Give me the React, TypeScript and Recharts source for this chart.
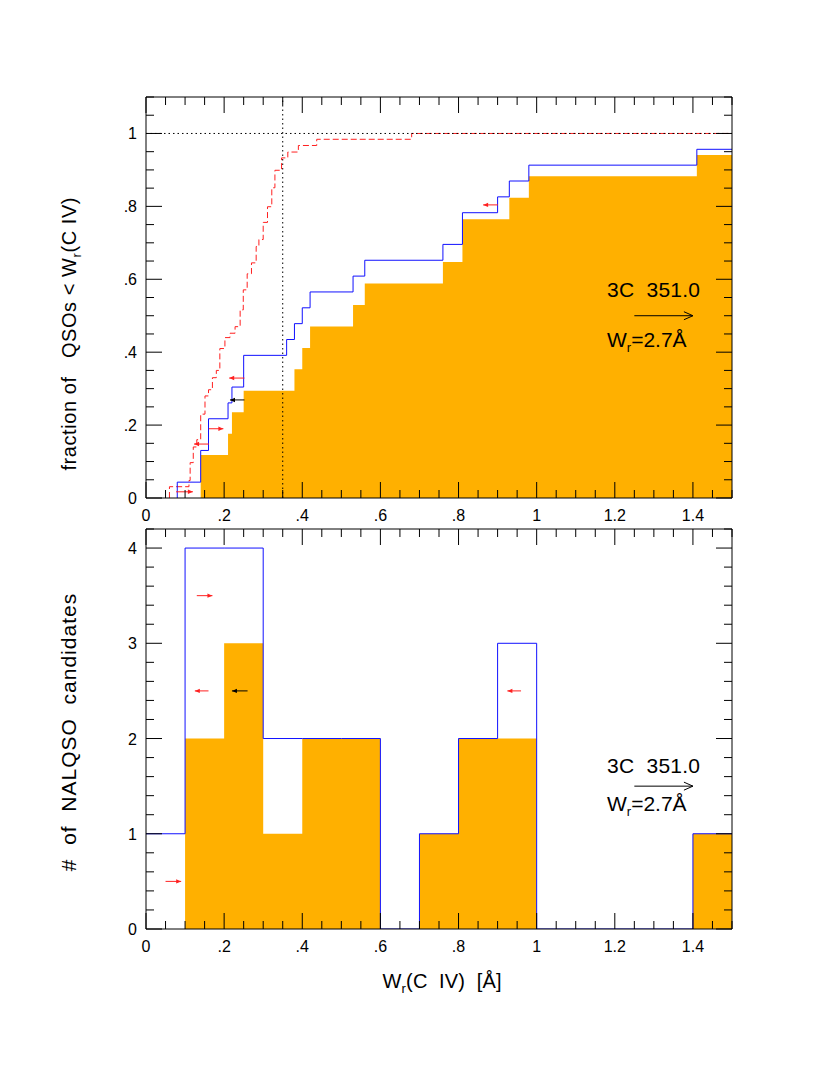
import React from "react";
import {
  Area,
  ComposedChart,
  Line,
  ReferenceDot,
  ReferenceLine,
  XAxis,
  YAxis,
} from "recharts";

const FONT = "'Liberation Sans', Arial, Helvetica, sans-serif";
const ORANGE = "#ffb000";
const BLUE = "#1010ff";
const RED = "#ff2020";

// ---- top panel: cumulative fractions ----
// detections (filled)
const detTotal = 17;
const detSteps = [0.14, 0.21, 0.22, 0.25, 0.38, 0.4, 0.42, 0.53, 0.56, 0.76, 0.81, 0.93, 0.98, 1.41, 1.5];
const detCounts = [2, 3, 4, 5, 6, 7, 8, 9, 10, 11, 13, 14, 15, 16, 16];

// detections + upper limits (blue)
const allTotal = 23;
const allSteps = [0.08, 0.08, 0.14, 0.16, 0.21, 0.22, 0.25, 0.36, 0.38, 0.4, 0.42, 0.53, 0.56, 0.76, 0.81, 0.9, 0.93, 0.98, 1.41, 1.5];
const allCounts = [0, 1, 3, 5, 6, 7, 9, 10, 11, 12, 13, 14, 15, 16, 18, 19, 20, 21, 22, 22];

// comparison sample (red dashed)
const compSteps = [0.06, 0.06, 0.11, 0.113, 0.121, 0.13, 0.14, 0.151, 0.16, 0.17, 0.18, 0.189, 0.202, 0.215, 0.228, 0.241, 0.249, 0.259, 0.27, 0.282, 0.289, 0.3, 0.311, 0.322, 0.33, 0.347, 0.363, 0.39, 0.437, 0.68, 1.5];
const compFrac = [0, 0.031, 0.048, 0.097, 0.14, 0.16, 0.23, 0.28, 0.297, 0.33, 0.35, 0.41, 0.44, 0.452, 0.47, 0.516, 0.571, 0.615, 0.645, 0.69, 0.709, 0.756, 0.799, 0.851, 0.899, 0.933, 0.949, 0.967, 0.984, 1, 1];

const cutX = 0.35;
const fullY = 1;

// limit arrows [from, to, y]
const topRedArrows = [
  [0.077, 0.12, 0.017],
  [0.161, 0.123, 0.148],
  [0.161, 0.198, 0.19],
  [0.252, 0.213, 0.329],
  [0.901, 0.863, 0.804],
];
const topBlackArrows = [[0.252, 0.215, 0.269]];

// ---- bottom panel: histogram ----
const binEdges = [0, 0.1, 0.2, 0.3, 0.4, 0.5, 0.6, 0.7, 0.8, 0.9, 1.0, 1.1, 1.2, 1.3, 1.4, 1.5];
const allHist = [1, 4, 4, 2, 2, 2, 0, 1, 2, 3, 0, 0, 0, 0, 1];
const detHist = [0, 2, 3, 1, 2, 2, 0, 1, 2, 2, 0, 0, 0, 0, 1];

const botRedArrows = [
  [0.13, 0.17, 3.5],
  [0.16, 0.125, 2.5],
  [0.05, 0.09, 0.5],
  [0.96, 0.925, 2.5],
];
const botBlackArrows = [[0.26, 0.22, 2.5]];

// 3C 351.0 note: arrow [from, to, y], name y, width y
const topNote = { x: 1.18, arrow: [1.25, 1.4, 0.5], nameY: 0.551, wY: 0.415 };
const botNote = { x: 1.18, arrow: [1.25, 1.4, 1.5], nameY: 1.64, wY: 1.238 };

// ---- ticks ----
const xTicks = Array.from({ length: 31 }, (_, i) => +(i * 0.05).toFixed(2));
const xLabels: Record<string, string> = { "0": "0", "0.2": ".2", "0.4": ".4", "0.6": ".6", "0.8": ".8", "1": "1", "1.2": "1.2", "1.4": "1.4" };
const yTopTicks = Array.from({ length: 23 }, (_, i) => +(i * 0.05).toFixed(2));
const yTopLabels: Record<string, string> = { "0": "0", "0.2": ".2", "0.4": ".4", "0.6": ".6", "0.8": ".8", "1": "1" };
const yBotTicks = Array.from({ length: 22 }, (_, i) => +(i * 0.2).toFixed(2));
const yBotLabels: Record<string, string> = { "0": "0", "1": "1", "2": "2", "3": "3", "4": "4" };

const detData = detSteps.map((x, i) => ({ x, y: detCounts[i] / detTotal }));
const allData = allSteps.map((x, i) => ({ x, y: allCounts[i] / allTotal }));
const compData = compSteps.map((x, i) => ({ x, y: compFrac[i] }));
const histAll = binEdges.map((x, i) => ({ x, y: allHist[Math.min(i, allHist.length - 1)] }));
const histDet = binEdges.map((x, i) => ({ x, y: detHist[Math.min(i, detHist.length - 1)] }));

const isMult = (v: number, step: number) => Math.abs(v / step - Math.round(v / step)) < 1e-6;

function tickFn(side: string, major: number, labels?: Record<string, string>) {
  return (props: any) => {
    const { x, y, payload } = props;
    const v = payload.value;
    const len = isMult(v, major) ? 16 : 8;
    let x2 = x;
    let y2 = y;
    if (side === "bottom") y2 = y - len;
    if (side === "top") y2 = y + len;
    if (side === "left") x2 = x + len;
    if (side === "right") x2 = x - len;
    const label = labels ? labels[String(v)] : undefined;
    return (
      <g>
        <line x1={x} y1={y} x2={x2} y2={y2} stroke="#000" strokeWidth={1} />
        {label !== undefined && side === "bottom" && (
          <text x={x} y={y + 23} textAnchor="middle" fontSize={16} fontFamily={FONT} fill="#000">
            {label}
          </text>
        )}
        {label !== undefined && side === "left" && (
          <text x={x - 9} y={y + 6} textAnchor="end" fontSize={16} fontFamily={FONT} fill="#000">
            {label}
          </text>
        )}
      </g>
    );
  };
}

function arrowShape(color: string, open: boolean) {
  return (props: any) => {
    const { x1, y1, x2, y2 } = props;
    const d = x2 > x1 ? 1 : -1;
    const hl = open ? 9 : 5;
    const hw = open ? 4 : 2.2;
    return (
      <g>
        <line x1={x1} y1={y1} x2={x2} y2={y2} stroke={color} strokeWidth={1} />
        {open ? (
          <path d={`M${x2 - d * hl},${y2 - hw} L${x2},${y2} L${x2 - d * hl},${y2 + hw}`} stroke={color} fill="none" strokeWidth={1} />
        ) : (
          <path d={`M${x2 - d * hl},${y2 - hw} L${x2},${y2} L${x2 - d * hl},${y2 + hw} Z`} fill={color} stroke="none" />
        )}
      </g>
    );
  };
}

const nameText = (props: any) => (
  <text x={props.cx} y={props.cy} fontSize={21} fontFamily={FONT} fill="#000" textLength={93} style={{ whiteSpace: "pre" }}>
    3C  351.0
  </text>
);
const wText = (props: any) => (
  <text x={props.cx} y={props.cy} fontSize={21} fontFamily={FONT} fill="#000">
    W<tspan fontSize={13} dy={5}>r</tspan>
    <tspan dy={-5}>=2.7Å</tspan>
  </text>
);

function axes(yTicks: number[], yMajor: number, yLabels: Record<string, string>, yMax: number) {
  return [
    <XAxis key="xb" xAxisId={0} dataKey="x" type="number" domain={[0, 1.5]} ticks={xTicks} interval={0} height={1} tickSize={0} tickMargin={0} tickLine={false} axisLine={{ stroke: "#000" }} tick={tickFn("bottom", 0.2, xLabels)} allowDataOverflow />,
    <XAxis key="xt" xAxisId="top" orientation="top" dataKey="x" type="number" domain={[0, 1.5]} ticks={xTicks} interval={0} height={1} tickSize={0} tickMargin={0} tickLine={false} axisLine={{ stroke: "#000" }} tick={tickFn("top", 0.2)} allowDataOverflow />,
    <YAxis key="yl" yAxisId={0} type="number" domain={[0, yMax]} ticks={yTicks} interval={0} width={1} tickSize={0} tickMargin={0} tickLine={false} axisLine={{ stroke: "#000" }} tick={tickFn("left", yMajor, yLabels)} allowDataOverflow />,
    <YAxis key="yr" yAxisId="right" orientation="right" type="number" domain={[0, yMax]} ticks={yTicks} interval={0} width={1} tickSize={0} tickMargin={0} tickLine={false} axisLine={{ stroke: "#000" }} tick={tickFn("right", yMajor)} allowDataOverflow />,
  ];
}

function TopPanel() {
  return (
    <ComposedChart width={830} height={560} margin={{ top: 96, right: 97, bottom: 61, left: 145 }}>
      {axes(yTopTicks, 0.2, yTopLabels, 1.1)}
      <Area data={detData} dataKey="y" type="stepAfter" stroke="none" fill={ORANGE} fillOpacity={1} isAnimationActive={false} />
      <Line data={compData} dataKey="y" type="stepAfter" stroke={RED} strokeWidth={1} strokeDasharray="6 3" dot={false} isAnimationActive={false} />
      <Line data={allData} dataKey="y" type="stepAfter" stroke={BLUE} strokeWidth={1} dot={false} isAnimationActive={false} />
      <ReferenceLine y={fullY} stroke="#000" strokeDasharray="1.5 3" />
      <ReferenceLine x={cutX} stroke="#000" strokeDasharray="1.5 3" />
      {topRedArrows.map((a, i) => (
        <ReferenceLine key={"tr" + i} segment={[{ x: a[0], y: a[2] }, { x: a[1], y: a[2] }]} shape={arrowShape(RED, false)} />
      ))}
      {topBlackArrows.map((a, i) => (
        <ReferenceLine key={"tb" + i} segment={[{ x: a[0], y: a[2] }, { x: a[1], y: a[2] }]} shape={arrowShape("#000", false)} />
      ))}
      <ReferenceLine segment={[{ x: topNote.arrow[0], y: topNote.arrow[2] }, { x: topNote.arrow[1], y: topNote.arrow[2] }]} shape={arrowShape("#000", true)} />
      <ReferenceDot x={topNote.x} y={topNote.nameY} r={0} shape={nameText} />
      <ReferenceDot x={topNote.x} y={topNote.wY} r={0} shape={wText} />
    </ComposedChart>
  );
}

function BottomPanel() {
  return (
    <ComposedChart width={830} height={575} margin={{ top: 27, right: 97, bottom: 146, left: 145 }}>
      {axes(yBotTicks, 1, yBotLabels, 4.2)}
      <Area data={histDet} dataKey="y" type="stepAfter" stroke="none" fill={ORANGE} fillOpacity={1} isAnimationActive={false} />
      <Line data={histAll} dataKey="y" type="stepAfter" stroke={BLUE} strokeWidth={1} dot={false} isAnimationActive={false} />
      {botRedArrows.map((a, i) => (
        <ReferenceLine key={"br" + i} segment={[{ x: a[0], y: a[2] }, { x: a[1], y: a[2] }]} shape={arrowShape(RED, false)} />
      ))}
      {botBlackArrows.map((a, i) => (
        <ReferenceLine key={"bb" + i} segment={[{ x: a[0], y: a[2] }, { x: a[1], y: a[2] }]} shape={arrowShape("#000", false)} />
      ))}
      <ReferenceLine segment={[{ x: botNote.arrow[0], y: botNote.arrow[2] }, { x: botNote.arrow[1], y: botNote.arrow[2] }]} shape={arrowShape("#000", true)} />
      <ReferenceDot x={botNote.x} y={botNote.nameY} r={0} shape={nameText} />
      <ReferenceDot x={botNote.x} y={botNote.wY} r={0} shape={wText} />
    </ComposedChart>
  );
}

export default function App() {
  return (
    <div style={{ position: "absolute", left: 0, top: 0, width: 830, height: 1075, background: "#fff" }}>
      <div style={{ position: "absolute", left: 0, top: 0 }}>
        <TopPanel />
      </div>
      <div style={{ position: "absolute", left: 0, top: 501 }}>
        <BottomPanel />
      </div>
      <svg width={830} height={1075} style={{ position: "absolute", left: 0, top: 0, pointerEvents: "none" }}>
        <text transform="translate(76,334) rotate(-90)" textAnchor="middle" fontSize={20} fontFamily={FONT} fill="#000" textLength={273} style={{ whiteSpace: "pre" }}>
          fraction of   QSOs {"<"} W<tspan fontSize={13} dy={5}>r</tspan>
          <tspan dy={-5}>(C IV)</tspan>
        </text>
        <text transform="translate(76,732) rotate(-90)" textAnchor="middle" fontSize={21} fontFamily={FONT} fill="#000" letterSpacing={1} style={{ whiteSpace: "pre" }}>
          #  of  NALQSO  candidates
        </text>
        <text x={442} y={988} textAnchor="middle" fontSize={20} fontFamily={FONT} fill="#000" textLength={119} style={{ whiteSpace: "pre" }}>
          W<tspan fontSize={13} dy={5}>r</tspan>
          <tspan dy={-5}>(C  IV)  [Å]</tspan>
        </text>
      </svg>
    </div>
  );
}
